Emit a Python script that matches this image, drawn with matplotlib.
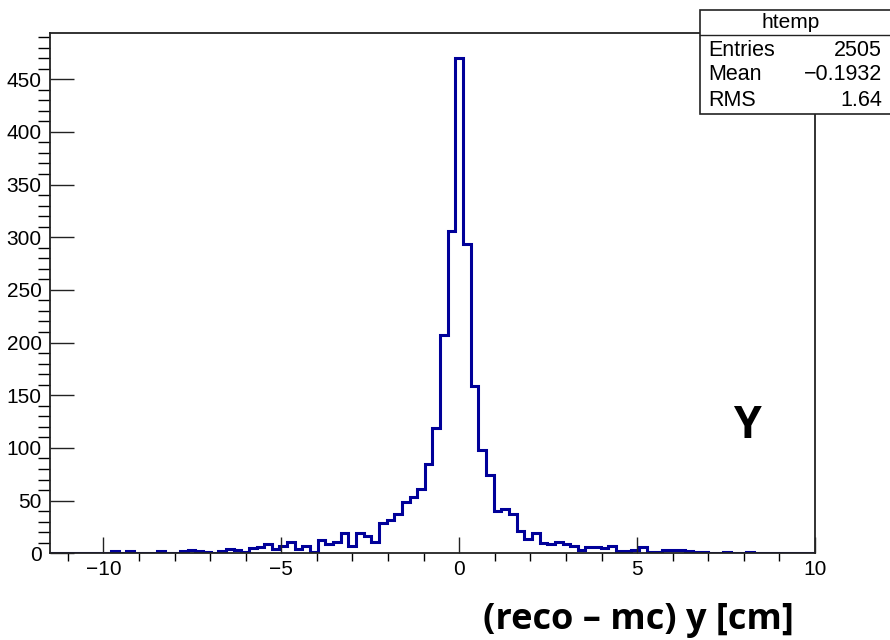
import numpy as np
import matplotlib
matplotlib.use('Agg')
from matplotlib import pyplot as plt
from matplotlib.ticker import MultipleLocator

# htemp: 100 bins between x_lo and x_hi
x_lo, x_hi, n_bins = -11.5, 10.0, 100
counts = [0, 0, 0, 0, 0, 0, 0, 0, 2, 0,
          2, 0, 0, 0, 2, 0, 0, 2, 3, 2,
          1, 0, 2, 4, 3, 1, 5, 6, 9, 4,
          7, 11, 4, 7, 1, 13, 9, 11, 19, 7,
          19, 16, 11, 29, 32, 37, 49, 53, 61, 85,
          119, 207, 306, 470, 294, 159, 98, 74, 40, 42,
          37, 21, 14, 19, 10, 9, 11, 9, 7, 3,
          6, 6, 5, 7, 2, 2, 3, 6, 1, 1,
          3, 3, 3, 2, 1, 1, 0, 0, 1, 0,
          0, 1, 0, 0, 0, 0, 0, 0, 0, 0]
stat_names = ['Entries', 'Mean', 'RMS']
stat_values = ['2505', '\u22120.1932', '1.64']

plt.rcParams['font.family'] = ['Liberation Sans', 'DejaVu Sans']

fig = plt.figure(figsize=(8.9, 6.4), dpi=100)
ax = fig.add_axes([50 / 890, 1 - 553.3 / 640, 765 / 890, 520 / 640])

edges = np.linspace(x_lo, x_hi, n_bins + 1)
ax.stairs(counts, edges, color='#000099', linewidth=2.2)

ax.set_xlim(x_lo, x_hi)
ax.set_ylim(0, max(counts) * 1.05)

ax.xaxis.set_major_locator(MultipleLocator(5))
ax.xaxis.set_minor_locator(MultipleLocator(1))
ax.yaxis.set_major_locator(MultipleLocator(50))
ax.yaxis.set_minor_locator(MultipleLocator(10))
ax.tick_params(direction='in', labelsize=15, width=1.0, color='#222222')
ax.tick_params(axis='x', which='major', length=11.5, pad=5)
ax.tick_params(axis='x', which='minor', length=6, width=1.0)
ax.tick_params(axis='y', which='major', length=17, pad=6)
ax.tick_params(axis='y', which='minor', length=8.5, width=1.0)
ax.set_xticks([-10, -5, 0, 5, 10])
ax.set_xticklabels(['\u221210', '\u22125', '0', '5', '10'])
for s in ax.spines.values():
    s.set_linewidth(1.3)
    s.set_color('#222222')

# stats box
bx0, by0, bx1, by1 = 700, 10, 895, 114
box = plt.Rectangle((bx0 / 890, 1 - by1 / 640), (bx1 - bx0) / 890, (by1 - by0) / 640,
                    transform=fig.transFigure, facecolor='white', edgecolor='#222222',
                    linewidth=1.2, zorder=5)
fig.add_artist(box)
fig.add_artist(plt.Line2D([bx0 / 890, 1], [1 - 34.5 / 640] * 2, transform=fig.transFigure,
                          color='#222222', linewidth=1.0, zorder=6))
fig.text(791 / 890, 1 - 22 / 640, 'htemp', ha='center', va='center', fontsize=15, zorder=7)
for i, (n, v) in enumerate(zip(stat_names, stat_values)):
    yy = 1 - (50 + 25 * i) / 640
    fig.text(708 / 890, yy, n, ha='left', va='center', fontsize=15.5, zorder=7)
    fig.text(882 / 890, yy, v, ha='right', va='center', fontsize=15.5, zorder=7)

fig.text(747 / 890, 1 - 427 / 640, 'Y', ha='center', va='center', fontsize=32,
         fontweight='bold', family=['Open Sans', 'DejaVu Sans'])
fig.text(638 / 890, 1 - 620 / 640, '(reco \u2013 mc) y [cm]', ha='center', va='center',
         fontsize=26, fontweight='bold', family=['Open Sans', 'DejaVu Sans'])

fig.savefig('out.png', dpi=100)
